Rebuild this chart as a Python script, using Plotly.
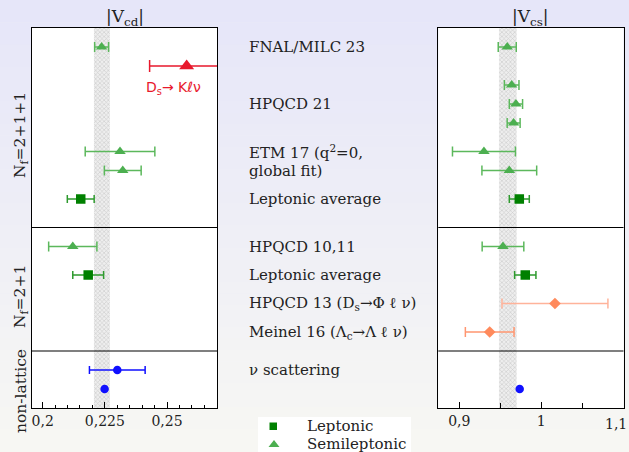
import plotly.graph_objects as go

W, H = 629, 452

# ---------------- data ----------------
# rows (vertical slots, top = 0)
semi_vcd_rows = [1, 6.5, 7.5, 11.5]
semi_vcd_val = [0.2237, 0.2311, 0.2322, 0.2121]
semi_vcd_err = [0.0028, 0.0140, 0.0074, 0.0097]

dsk_vcd_rows = [2]
dsk_vcd_val = [0.2579]
dsk_vcd_err = [0.0149]

lep_vcd_rows = [9, 13]
lep_vcd_val = [0.2153, 0.2183]
lep_vcd_err = [0.0054, 0.0062]

nu_vcd_rows = [18, 19]
nu_vcd_val = [0.2300, 0.2249]
nu_vcd_err = [0.0112, 0.0]

semi_vcs_rows = [1, 3, 4, 5, 6.5, 7.5, 11.5]
semi_vcs_val = [0.9585, 0.9639, 0.9691, 0.9663, 0.9301, 0.9610, 0.9533]
semi_vcs_err = [0.0110, 0.0089, 0.0081, 0.0079, 0.0384, 0.0334, 0.0254]

lep_vcs_rows = [9, 13]
lep_vcs_val = [0.9732, 0.9805]
lep_vcs_err = [0.0122, 0.0130]

ds_phi_vcs_rows = [14.5]
ds_phi_vcs_val = [1.0167]
ds_phi_vcs_err = [0.0646]

meinel_vcs_rows = [16]
meinel_vcs_val = [0.9371]
meinel_vcs_err = [0.0297]

nu_vcs_rows = [19]
nu_vcs_val = [0.9737]

band_vcd = [0.2206, 0.2270]
band_vcs = [0.9484, 0.9700]

row_labels = ["FNAL/MILC 23", "HPQCD 21", "ETM 17 (q<sup>2</sup>=0,", "global fit)",
              "Leptonic average", "HPQCD 10,11", "Leptonic average",
              "HPQCD 13 (D<sub>s</sub>→Φ ℓ ν)", "Meinel 16 (Λ<sub>c</sub>→Λ ℓ ν)",
              "ν scattering"]
row_label_rows = [1, 4, 6.5, 7.5, 9, 11.5, 13, 14.5, 16, 18]

group_labels = ["N<sub>f</sub>=2+1+1", "N<sub>f</sub>=2+1", "non-lattice"]
group_bounds = [0, 10.5, 17, 20]

vcd_ticks = [0.2, 0.225, 0.25]
vcd_ticktext = ["0,2", "0,225", "0,25"]
vcs_ticks = [0.9, 1.0, 1.1]
vcs_ticktext = ["0,9", "1", "1,1"]

SERIF = "DejaVu Serif"
GREEN = "#4caf50"
DGREEN = "#008000"
RED = "#e8192c"
BLUE = "#1010ff"

fig = go.Figure()

def band(xr, xa, ya):
    fig.add_trace(go.Scatter(
        x=[xr[0], xr[1], xr[1], xr[0], xr[0]],
        y=[group_bounds[0], group_bounds[0], group_bounds[-1], group_bounds[-1], group_bounds[0]],
        fill="toself", mode="lines", line=dict(width=0),
        fillcolor="rgba(0,0,0,0)",
        fillpattern=dict(shape="x", size=3, solidity=0.35, fgcolor="#a4a4a4", bgcolor="#eeeeee"),
        xaxis=xa, yaxis=ya, showlegend=False, hoverinfo="skip"))

band(band_vcd, "x", "y")
band(band_vcs, "x2", "y2")

def pts(xv, yv, err, xa, ya, sym, size, color, ecolor, cap=5, thick=1.5):
    kw = {}
    if err is not None:
        kw["error_x"] = dict(type="data", array=err, visible=True, color=ecolor,
                             thickness=thick, width=cap)
    fig.add_trace(go.Scatter(x=xv, y=yv, mode="markers", xaxis=xa, yaxis=ya,
                             marker=dict(symbol=sym, size=size, color=color, line=dict(width=0)),
                             showlegend=False, **kw))

pts(semi_vcd_val, semi_vcd_rows, semi_vcd_err, "x", "y", "triangle-up", 10, GREEN, "#5cb85c")
pts(dsk_vcd_val, dsk_vcd_rows, dsk_vcd_err, "x", "y", "triangle-up", 13, RED, RED, cap=6)
pts(lep_vcd_val, lep_vcd_rows, lep_vcd_err, "x", "y", "square", 9.5, DGREEN, "#2e9a2e", cap=4)
pts(nu_vcd_val, nu_vcd_rows, nu_vcd_err, "x", "y", "circle", 8.5, BLUE, BLUE, cap=4)

pts(semi_vcs_val, semi_vcs_rows, semi_vcs_err, "x2", "y2", "triangle-up", 10, GREEN, "#5cb85c")
pts(lep_vcs_val, lep_vcs_rows, lep_vcs_err, "x2", "y2", "square", 9.5, DGREEN, "#2e9a2e", cap=4)
pts(ds_phi_vcs_val, ds_phi_vcs_rows, ds_phi_vcs_err, "x2", "y2", "diamond", 9, "#ff8a5c", "#ffb39a")
pts(meinel_vcs_val, meinel_vcs_rows, meinel_vcs_err, "x2", "y2", "diamond", 9, "#ff8a5c", "#ff9670")
pts(nu_vcs_val, nu_vcs_rows, None, "x2", "y2", "circle", 8.5, BLUE, BLUE)

shapes = []
# background gradient
N = 40
c0 = (230, 230, 249)
c1 = (247, 247, 243)
for i in range(N):
    t = i / (N - 1)
    c = tuple(int(round(c0[k] + (c1[k] - c0[k]) * t)) for k in range(3))
    shapes.append(dict(type="rect", xref="paper", yref="paper", x0=0, x1=1,
                       y0=1 - (i + 1) / N, y1=1 - i / N + 0.001, layer="below",
                       line=dict(width=0), fillcolor="rgb(%d,%d,%d)" % c))
# white plot areas
for xa, ya in (("x", "y"), ("x2", "y2")):
    shapes.append(dict(type="rect", xref=xa + " domain", yref=ya + " domain",
                       x0=0, x1=1, y0=0, y1=1, layer="below",
                       line=dict(width=0), fillcolor="white"))
    for b in group_bounds[1:-1]:
        shapes.append(dict(type="line", xref=xa + " domain", yref=ya, x0=0, x1=1,
                           y0=b, y1=b, line=dict(color="black", width=1.2)))

# legend box
px = lambda v: v / W
py = lambda v: 1 - v / H
shapes.append(dict(type="rect", xref="paper", yref="paper", x0=px(258), x1=px(411),
                   y0=0, y1=py(417), fillcolor="white", line=dict(width=0)))
shapes.append(dict(type="rect", xref="paper", yref="paper", x0=px(269.5), x1=px(277),
                   y0=py(430), y1=py(422.5), fillcolor=DGREEN, line=dict(width=0)))
shapes.append(dict(type="path", xref="paper", yref="paper",
                   path="M %f %f L %f %f L %f %f Z" % (px(268.5), py(447), px(279.5), py(447), px(274), py(440)),
                   fillcolor=GREEN, line=dict(width=0)))

annotations = []
for txt, r in zip(row_labels, row_label_rows):
    annotations.append(dict(text=txt, xref="paper", yref="y", x=px(247), y=r,
                            xanchor="left", yanchor="middle", showarrow=False,
                            font=dict(family=SERIF, size=15, color="#222")))
annotations.append(dict(text="D<sub>s</sub>→ Kℓν", xref="x", yref="y", x=dsk_vcd_val[0] - 0.0051,
                        y=dsk_vcd_rows[0] + 1.15, xanchor="center", yanchor="middle", showarrow=False,
                        font=dict(family="DejaVu Sans", size=14, color=RED)))
annotations.append(dict(text="|V<sub>cd</sub>|", xref="x domain", yref="paper", x=0.5, y=py(17),
                        xanchor="center", yanchor="middle", showarrow=False,
                        font=dict(family=SERIF, size=17, color="#222")))
annotations.append(dict(text="|V<sub>cs</sub>|", xref="x2 domain", yref="paper", x=0.5, y=py(17),
                        xanchor="center", yanchor="middle", showarrow=False,
                        font=dict(family=SERIF, size=17, color="#222")))
group_label_y = [135, 297, 391]
for txt, yy in zip(group_labels, group_label_y):
    annotations.append(dict(text=txt, xref="paper", yref="paper", x=px(21), y=py(yy),
                            xanchor="center", yanchor="middle", showarrow=False, textangle=-90,
                            font=dict(family=SERIF, size=15.5, color="#222")))
annotations.append(dict(text="Leptonic", xref="paper", yref="paper", x=px(304.5), y=py(426),
                        xanchor="left", yanchor="middle", showarrow=False,
                        font=dict(family=SERIF, size=15, color="#222")))
annotations.append(dict(text="Semileptonic", xref="paper", yref="paper", x=px(304.5), y=py(444),
                        xanchor="left", yanchor="middle", showarrow=False,
                        font=dict(family=SERIF, size=15, color="#222")))
# last Vcs tick label sits at the page edge: draw it right-aligned so it stays visible
annotations.append(dict(text=vcs_ticktext[-1], xref="paper", yref="paper", x=px(628.5), y=py(424),
                        xanchor="right", yanchor="middle", showarrow=False,
                        font=dict(family=SERIF, size=14, color="#222")))

axis_common = dict(showline=True, mirror=True, linecolor="black", linewidth=1.2,
                   showgrid=False, zeroline=False, ticks="inside", ticklen=6,
                   tickcolor="black",
                   tickfont=dict(family=SERIF, size=14, color="#222"))
y_common = dict(range=[group_bounds[-1], group_bounds[0]], showline=True, mirror=True,
                linecolor="black", linewidth=1.2, showgrid=False, zeroline=False,
                showticklabels=False, ticks="", domain=[1 - 408 / H, 1 - 28 / H])

fig.update_layout(
    width=W, height=H, margin=dict(l=0, r=0, t=0, b=0),
    paper_bgcolor="rgb(240,240,246)", plot_bgcolor="white",
    showlegend=False,
    xaxis=dict(domain=[32 / W, 217 / W], range=[0.1957, 0.2701], anchor="y",
               tickvals=vcd_ticks, ticktext=vcd_ticktext,
               minor=dict(dtick=0.005, tick0=0.2, ticks="inside", ticklen=3, tickcolor="black"),
               **axis_common),
    xaxis2=dict(domain=[438.3 / W, 623.5 / W], range=[0.8744, 1.1003], anchor="y2",
                tickvals=vcs_ticks, ticktext=vcs_ticktext[:-1] + [""],
                minor=dict(dtick=0.05, tick0=0.9, ticks="inside", ticklen=5, tickcolor="black"),
                **axis_common),
    yaxis=dict(anchor="x", **y_common),
    yaxis2=dict(anchor="x2", **y_common),
    shapes=shapes, annotations=annotations,
)

fig.write_html("out.html")
